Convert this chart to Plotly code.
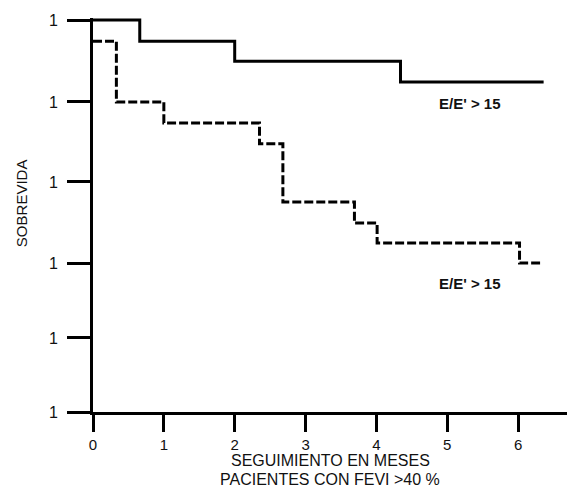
import plotly.graph_objects as go

# Survival curves (months of follow-up vs. survival fraction), step functions
solid_t = [0, 0.66, 2.0, 4.34, 6.36]
solid_s = [1.0, 0.946, 0.895, 0.842, 0.842]

dashed_t = [0, 0.33, 1.0, 2.35, 2.68, 3.69, 4.01, 6.02, 6.31]
dashed_s = [0.946, 0.791, 0.737, 0.684, 0.536, 0.482, 0.431, 0.380, 0.380]

x_ticks = [0, 1, 2, 3, 4, 5, 6]
y_ticks = [0, 0.189, 0.378, 0.587, 0.791, 1.0]
y_tick_text = ["1", "1", "1", "1", "1", "1"]

curve_label = "E/E' > 15"
x_title_1 = "SEGUIMIENTO EN MESES"
x_title_2 = "PACIENTES CON FEVI >40 %"
y_title = "SOBREVIDA"

FONT = "Liberation Sans, Arial, sans-serif"

# plot area: 394 px tall, 392 px per unit of survival
Y_TOP = 1 + 2 / 392

fig = go.Figure()
fig.add_trace(go.Scatter(
    x=solid_t, y=solid_s, mode="lines", line_shape="hv",
    line=dict(color="black", width=3), hoverinfo="skip",
))
fig.add_trace(go.Scatter(
    x=dashed_t, y=dashed_s, mode="lines", line_shape="hv",
    line=dict(color="black", width=3, dash="9px,3px"), hoverinfo="skip",
))

fig.add_annotation(x=5.32, y=0.788, xref="x", yref="y", text=f"<b>{curve_label}</b>",
                   showarrow=False, font=dict(size=15, color="#111", family=FONT))
fig.add_annotation(x=5.32, y=0.329, xref="x", yref="y", text=f"<b>{curve_label}</b>",
                   showarrow=False, font=dict(size=15, color="#111", family=FONT))

# two-line axis caption below the x tick labels
fig.add_annotation(x=0.5, y=-0.124, xref="x domain", yref="paper", text=x_title_1,
                   showarrow=False, yanchor="middle",
                   font=dict(size=16, color="#111", family=FONT))
fig.add_annotation(x=0.5, y=-0.172, xref="x domain", yref="paper", text=x_title_2,
                   showarrow=False, yanchor="middle",
                   font=dict(size=16, color="#111", family=FONT))
fig.add_annotation(x=-0.152, y=0.53, xref="paper", yref="paper", text=y_title,
                   showarrow=False, textangle=-90, xanchor="center", yanchor="middle",
                   font=dict(size=15, color="#111", family=FONT))

fig.update_layout(
    width=567, height=489,
    margin=dict(l=93, r=0, t=18, b=77),
    plot_bgcolor="white", paper_bgcolor="white",
    showlegend=False,
    font=dict(family=FONT, size=16, color="#111"),
    xaxis=dict(
        range=[0, 6.69], tickvals=x_ticks, ticks="outside", ticklen=17,
        tickwidth=3, tickcolor="black", showline=True, linewidth=3,
        linecolor="black", showgrid=False, zeroline=False,
        tickfont=dict(size=15, color="#111"),
    ),
    yaxis=dict(
        range=[0, Y_TOP], tickvals=y_ticks, ticktext=y_tick_text, ticks="outside",
        ticklen=23, tickwidth=3, tickcolor="black", showline=True, linewidth=3,
        linecolor="black", showgrid=False, zeroline=False,
        tickfont=dict(size=16, color="#111"), ticklabelstandoff=6,
    ),
)

fig.write_html("out.html")
